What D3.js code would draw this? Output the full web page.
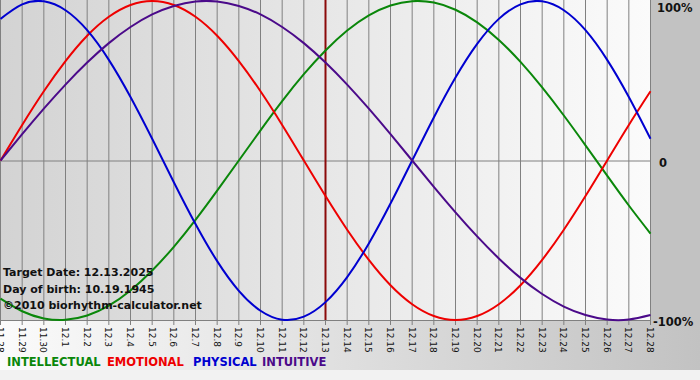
<!doctype html>
<html>
  <head>
    <meta charset="utf-8">
    <title>Biorhythm</title>
    <script src="https://cdnjs.cloudflare.com/ajax/libs/d3/7.8.5/d3.min.js"></script>
    <style>
      body { margin: 0; }
      svg { display: block; font-family: "DejaVu Sans", Verdana, sans-serif; }
    </style>
  </head>
  <body>
    <div id="chart"></div>
    <script>
      // Dates on the x axis, one per day
      const days = ['11.28','11.29','11.30','12.1','12.2','12.3','12.4','12.5','12.6','12.7','12.8',
                    '12.9','12.10','12.11','12.12','12.13','12.14','12.15','12.16','12.17','12.18',
                    '12.19','12.20','12.21','12.22','12.23','12.24','12.25','12.26','12.27','12.28'];

      // Cycle values in percent, read per day
      const physical = [88.8, 97.9, 99.8, 94.2, 81.7, 63.1, 39.8, 13.6, -13.6, -39.8, -63.1,
                        -81.7, -94.2, -99.8, -97.9, -88.8, -73.1, -52.0, -27.0, 0, 27.0,
                        52.0, 73.1, 88.8, 97.9, 99.8, 94.2, 81.7, 63.1, 39.8, 13.6];
      const emotional = [0, 22.3, 43.4, 62.3, 78.2, 90.1, 97.5, 100, 97.5, 90.1, 78.2,
                         62.3, 43.4, 22.3, 0, -22.3, -43.4, -62.3, -78.2, -90.1, -97.5,
                         -100, -97.5, -90.1, -78.2, -62.3, -43.4, -22.3, 0, 22.3, 43.4];
      const intellectual = [-86.6, -94.5, -99.0, -99.9, -97.2, -91.0, -81.5, -69.0, -54.1, -37.2, -18.9,
                            0, 18.9, 37.2, 54.1, 69.0, 81.5, 91.0, 97.2, 99.9, 99.0,
                            94.5, 86.6, 75.6, 61.8, 45.8, 28.2, 9.5, -9.5, -28.2, -45.8];
      const intuitive = [0, 16.5, 32.5, 47.6, 61.4, 73.6, 83.7, 91.6, 96.9, 99.7, 99.7,
                         96.9, 91.6, 83.7, 73.6, 61.4, 47.6, 32.5, 16.5, 0, -16.5,
                         -32.5, -47.6, -61.4, -73.6, -83.7, -91.6, -96.9, -99.7, -99.7, -96.9];

      const targetIndex = 15;
      const yTicks = [100, 0, -100];
      const yTickLabels = ['100%', '0', '-100%'];

      const series = [
        { name: 'INTELLECTUAL', values: intellectual, color: '#0a870a', legendX: 7 },
        { name: 'EMOTIONAL', values: emotional, color: '#ee0000', legendX: 107 },
        { name: 'PHYSICAL', values: physical, color: '#0000d0', legendX: 193 },
        { name: 'INTUITIVE', values: intuitive, color: '#4b0a8a', legendX: 262 }
      ];

      const W = 700, H = 380, plotW = 650, plotH = 320;

      const x = d3.scaleLinear().domain([0, days.length - 1]).range([0.5, plotW + 0.5]);
      const y = d3.scaleLinear().domain([-100, 100]).range([plotH, 1]);

      const svg = d3.select('#chart').append('svg')
        .attr('width', W)
        .attr('height', H);

      const defs = svg.append('defs');
      const bg = defs.append('linearGradient').attr('id', 'bg').attr('x1', 0).attr('x2', 1).attr('y1', 0).attr('y2', 0);
      bg.append('stop').attr('offset', '0%').attr('stop-color', '#fbfbfb');
      bg.append('stop').attr('offset', '100%').attr('stop-color', '#c2c2c2');
      const pg = defs.append('linearGradient').attr('id', 'pg').attr('x1', 0).attr('x2', 1).attr('y1', 0).attr('y2', 0);
      pg.append('stop').attr('offset', '0%').attr('stop-color', '#d3d3d3');
      pg.append('stop').attr('offset', '100%').attr('stop-color', '#fbfbfb');

      // backgrounds
      svg.append('rect').attr('width', W).attr('height', H).attr('fill', 'url(#bg)');
      svg.append('rect').attr('x', plotW).attr('width', W - plotW).attr('height', plotH).attr('fill', '#c2c2c2');
      svg.append('rect').attr('y', 370).attr('width', W).attr('height', H - 370).attr('fill', '#f2f2f2');
      svg.append('rect').attr('width', plotW).attr('height', plotH).attr('fill', 'url(#pg)');

      // vertical day lines with tick stubs
      svg.append('g').selectAll('line')
        .data(days)
        .join('line')
        .attr('x1', (d, i) => x(i))
        .attr('x2', (d, i) => x(i))
        .attr('y1', 0)
        .attr('y2', plotH + 5)
        .attr('stroke', '#808080')
        .attr('stroke-width', 1);

      // horizontal lines at 0 and bottom
      svg.append('line').attr('x1', 0).attr('x2', x(days.length - 1))
        .attr('y1', y(0) + 0.5).attr('y2', y(0) + 0.5).attr('stroke', '#808080');
      svg.append('line').attr('x1', 0).attr('x2', x(days.length - 1))
        .attr('y1', plotH + 0.5).attr('y2', plotH + 0.5).attr('stroke', '#808080');

      // target date line
      svg.append('line')
        .attr('x1', x(targetIndex)).attr('x2', x(targetIndex))
        .attr('y1', 0).attr('y2', plotH)
        .attr('stroke', '#8b0a0a').attr('stroke-width', 2);

      // curves
      const line = d3.line()
        .x((d, i) => x(i))
        .y(d => y(d))
        .curve(d3.curveNatural);

      svg.append('g').selectAll('path')
        .data(series)
        .join('path')
        .attr('d', d => line(d.values))
        .attr('fill', 'none')
        .attr('stroke', d => d.color)
        .attr('stroke-width', 2);

      // info text
      const info = ['Target Date: 12.13.2025', 'Day of birth: 10.19.1945', '\u00a92010 biorhythm-calculator.net'];
      svg.append('g').selectAll('text')
        .data(info)
        .join('text')
        .attr('x', 3)
        .attr('y', (d, i) => 276 + i * 16.5)
        .attr('font-size', '11px')
        .attr('font-weight', 'bold')
        .attr('fill', '#111')
        .text(d => d);

      // x tick labels, rotated
      svg.append('g').selectAll('text')
        .data(days)
        .join('text')
        .attr('transform', (d, i) => `translate(${x(i) - 3.5},${plotH + 7}) rotate(90)`)
        .attr('font-size', '9px')
        .attr('fill', '#111')
        .text(d => d);

      // y labels on the right
      svg.append('g').selectAll('text')
        .data(yTicks)
        .join('text')
        .attr('x', (d, i) => i === 2 ? 653 : (i === 0 ? 657 : 659))
        .attr('y', d => y(d) + 4)
        .attr('dy', (d, i) => i === 0 ? 7 : 2)
        .attr('font-size', '11.5px')
        .attr('font-weight', 'bold')
        .attr('fill', '#111')
        .text((d, i) => yTickLabels[i]);

      // legend
      svg.append('g').selectAll('text')
        .data(series)
        .join('text')
        .attr('x', d => d.legendX)
        .attr('y', 366)
        .attr('font-size', '11.5px')
        .attr('font-weight', 'bold')
        .attr('fill', d => d.color)
        .text(d => d.name);
    </script>
  </body>
</html>
